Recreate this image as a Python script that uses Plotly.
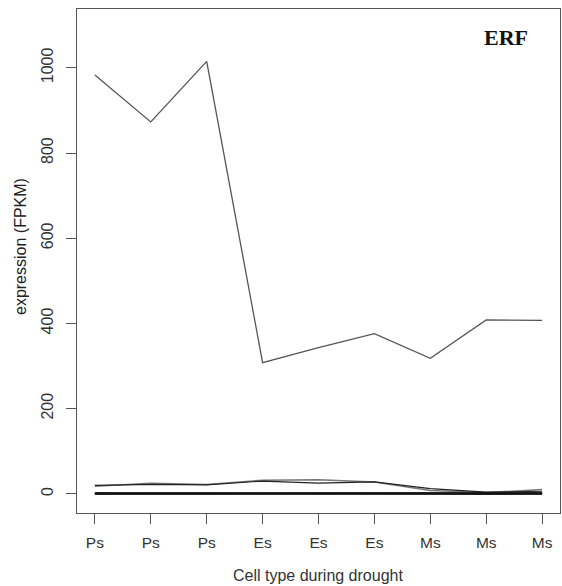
import plotly.graph_objects as go

# Samples (three replicates per cell type) and their tick labels
positions = [1, 2, 3, 4, 5, 6, 7, 8, 9]
cell_labels = ["Ps", "Ps", "Ps", "Es", "Es", "Es", "Ms", "Ms", "Ms"]

# ERF family expression (FPKM) per gene
erf_high = [983, 873, 1015, 308, 343, 376, 318, 408, 407]
erf_mid_a = [18, 25, 22, 32, 33, 28, 8, 3, 10]
erf_mid_b = [20, 22, 21, 30, 25, 28, 12, 4, 6]
erf_low = [
    [0, 0, 0, 0, 0, 0, 0, 0, 0],
    [1, 1, 1, 1, 1, 1, 1, 1, 1],
    [0.5, 0.5, 0.5, 0.5, 0.5, 0.5, 2, 1, 2],
    [2, 2, 1, 2, 1, 2, 1, 0, 1],
]

fig = go.Figure()

fig.add_trace(go.Scatter(x=positions, y=erf_high, mode="lines",
                         line=dict(color="#555555", width=1.3)))
fig.add_trace(go.Scatter(x=positions, y=erf_mid_a, mode="lines",
                         line=dict(color="#777777", width=1.5)))
fig.add_trace(go.Scatter(x=positions, y=erf_mid_b, mode="lines",
                         line=dict(color="#222222", width=1.2)))
for series in erf_low:
    fig.add_trace(go.Scatter(x=positions, y=series, mode="lines",
                             line=dict(color="#111111", width=1.6)))

sans = "Liberation Sans, Arial, sans-serif"

fig.update_layout(
    width=562, height=586,
    margin=dict(l=77, r=2, t=9, b=73),
    paper_bgcolor="white", plot_bgcolor="white",
    showlegend=False,
    xaxis=dict(
        range=[0.68, 9.32], tickvals=positions, ticktext=cell_labels,
        showgrid=False, zeroline=False,
        showline=True, mirror=True, linecolor="#555555", linewidth=1,
        ticks="outside", ticklen=10, tickcolor="#555555", tickwidth=1,
        tickfont=dict(family=sans, size=15.5, color="#333333"),
        ticklabelstandoff=5,
    ),
    yaxis=dict(
        range=[-45, 1138], tickvals=[0, 200, 400, 600, 800, 1000],
        showgrid=False, zeroline=False,
        showline=True, mirror=True, linecolor="#555555", linewidth=1,
        ticks="outside", ticklen=10, tickcolor="#555555", tickwidth=1,
        tickfont=dict(family=sans, size=16, color="#333333"),
        tickangle=-90, ticklabelstandoff=7,
    ),
    annotations=[
        dict(text="expression (FPKM)", textangle=-90,
             xref="paper", yref="paper", x=(20 - 77) / 483, y=(513 - 247) / 504,
             xanchor="center", yanchor="middle", showarrow=False,
             font=dict(family=sans, size=16, color="#222222")),
        dict(text="Cell type during drought",
             xref="paper", yref="paper", x=(318 - 77) / 483, y=(513 - 575) / 504,
             xanchor="center", yanchor="middle", showarrow=False,
             font=dict(family=sans, size=16, color="#333333")),
        dict(text="<b>ERF</b>",
             xref="paper", yref="paper", x=(506 - 77) / 483, y=(513 - 37) / 504,
             xanchor="center", yanchor="middle", showarrow=False,
             font=dict(family="Liberation Serif, Times New Roman, serif", size=22, color="#111111")),
    ],
)

fig.write_html("out.html")
